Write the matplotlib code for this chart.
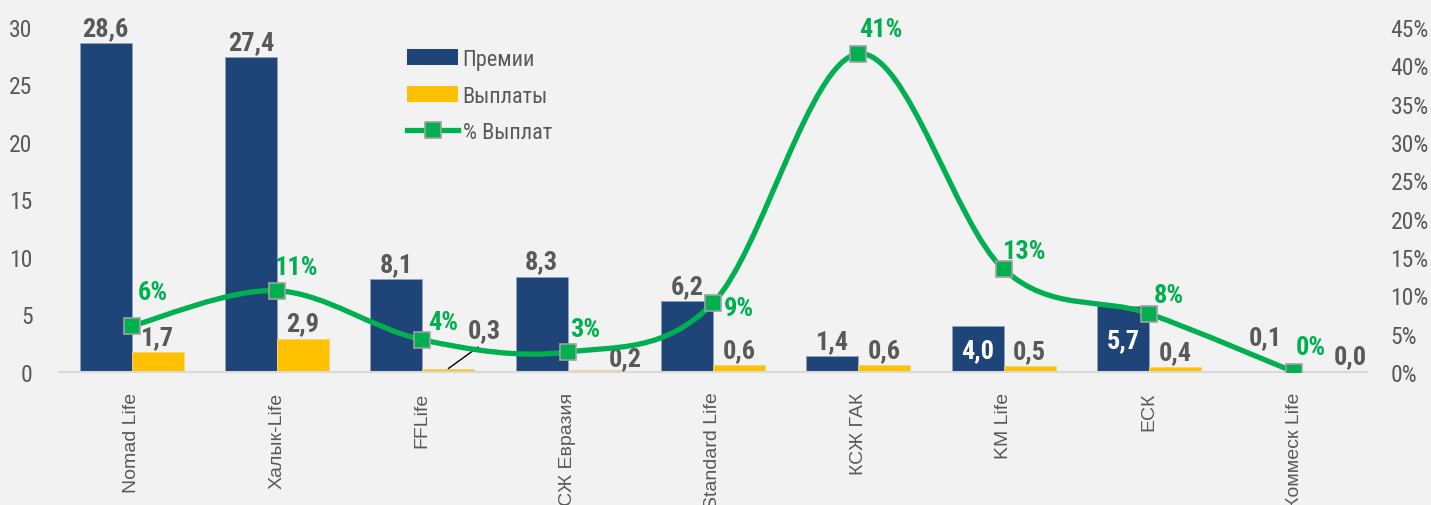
import matplotlib
matplotlib.use("Agg")
import matplotlib.pyplot as plt
from matplotlib import font_manager
from matplotlib.patches import Patch, PathPatch
from matplotlib.lines import Line2D
from matplotlib.path import Path
from matplotlib.ticker import FuncFormatter

# --- данные ---
companies = ["Nomad Life", "Халык-Life", "FFLife", "КСЖ Евразия", "Standard Life",
             "КСЖ ГАК", "KM Life", "ЕСК", "Коммеск Life"]
premii = [28.6, 27.4, 8.1, 8.3, 6.2, 1.4, 4.0, 5.7, 0.1]
vyplaty = [1.7, 2.9, 0.3, 0.2, 0.6, 0.6, 0.5, 0.4, 0.0]
pct_vyplat = [0.060, 0.106, 0.042, 0.026, 0.090, 0.415, 0.134, 0.076, 0.0]
pct_labels = ["6%", "11%", "4%", "3%", "9%", "41%", "13%", "8%", "0%"]

BLUE = "#1f4477"
YELLOW = "#ffc000"
GREEN = "#00b050"
GREY_TXT = "#595959"
BG = "#f2f2f2"


def pick_font(names):
    avail = {f.name for f in font_manager.fontManager.ttflist}
    for n in names:
        if n in avail:
            return n
    return "DejaVu Sans"


NARROW = pick_font(["Liberation Sans Narrow", "Roboto Condensed", "DejaVu Sans"])
PLAIN = pick_font(["Liberation Sans", "Arial", "DejaVu Sans"])
plt.rcParams["font.family"] = [NARROW, "DejaVu Sans"]

fig = plt.figure(figsize=(14.31, 5.06), dpi=100, facecolor=BG)
ax = fig.add_axes([59 / 1431, 1 - 373 / 506, 1308 / 1431, 345 / 506])
ax.set_facecolor(BG)
ax2 = ax.twinx()

x = list(range(len(companies)))
w = 0.358
bars_p = ax.bar([i - w / 2 for i in x], premii, w, color=BLUE, edgecolor="#8ea2bf", linewidth=0.6, zorder=2)
bars_v = ax.bar([i + w / 2 for i in x], vyplaty, w, color=YELLOW, edgecolor="#f5d37a", linewidth=0.6, zorder=2)

ax.set_xlim(-0.5, len(companies) - 0.5)
ax.set_ylim(0, 30)
ax.set_yticks(range(0, 31, 5))
ax2.set_ylim(0, 0.45)
ax2.set_yticks([i / 100 for i in range(0, 46, 5)])
ax2.yaxis.set_major_formatter(FuncFormatter(lambda v, _: f"{round(v * 100)}%"))

for a in (ax, ax2):
    for s in a.spines.values():
        s.set_visible(False)
ax.spines["bottom"].set_visible(True)
ax.spines["bottom"].set_color("#d9d9d9")
ax.spines["bottom"].set_linewidth(1.5)

ax.tick_params(axis="y", length=0, pad=19, labelsize=17, labelcolor=GREY_TXT)
ax2.tick_params(axis="y", length=0, pad=17, labelsize=17, labelcolor=GREY_TXT)
ax.set_xticks(x)
ax.set_xticklabels(companies, rotation=90, fontsize=14, color=GREY_TXT, family=PLAIN)
ax.tick_params(axis="x", length=0, pad=14)

# сглаженная линия (кривые Безье как в Excel)
pts = list(zip(x, pct_vyplat))
verts = [pts[0]]
codes = [Path.MOVETO]
n = len(pts)
for i in range(n - 1):
    p0 = pts[max(i - 1, 0)]
    p1 = pts[i]
    p2 = pts[i + 1]
    p3 = pts[min(i + 2, n - 1)]
    c1 = (p1[0] + (p2[0] - p0[0]) / 6, p1[1] + (p2[1] - p0[1]) / 6)
    c2 = (p2[0] - (p3[0] - p1[0]) / 6, p2[1] - (p3[1] - p1[1]) / 6)
    verts += [c1, c2, p2]
    codes += [Path.CURVE4] * 3
ax2.add_patch(PathPatch(Path(verts, codes), facecolor="none", edgecolor=GREEN,
                        linewidth=3.8, capstyle="round", zorder=3))
ax2.plot(x, pct_vyplat, linestyle="none", marker="s", markersize=11,
         markerfacecolor=GREEN, markeredgecolor="#a0a0a0", markeredgewidth=1.2, zorder=4)

PX = 0.72  # пиксели -> пункты

# подписи премий
prem_off = [(0, 3), (0, 3), (0, 3), (0, 3), (0, 3), (0, 3), (0, -36), (0, -46), (-3, 22)]
for i, (v, off) in enumerate(zip(premii, prem_off)):
    inside = off[1] < 0
    ax.annotate(f"{v:.1f}".replace(".", ","), (i - w / 2, v),
                xytext=(off[0] * PX, off[1] * PX), textcoords="offset points",
                ha="center", va="bottom", fontsize=19, fontweight="bold",
                color="white" if inside else GREY_TXT, zorder=5)

# подписи выплат
vyp_off = [(0, 3), (0, 3), (36, 26), (32, 0), (0, 3), (0, 3), (0, 3), (0, 3), (30, 4)]
for i, (v, off) in enumerate(zip(vyplaty, vyp_off)):
    kw = {}
    if i == 2:
        kw["arrowprops"] = dict(arrowstyle="-", color="black", lw=1, shrinkA=2, shrinkB=0,
                                relpos=(0.5, 0.0))
    ax.annotate(f"{v:.1f}".replace(".", ","), (i + w / 2, v),
                xytext=(off[0] * PX, off[1] * PX), textcoords="offset points",
                ha="center", va="bottom", fontsize=19, fontweight="bold",
                color=GREY_TXT, zorder=5, **kw)

# подписи процента
pct_off = [(21, 34), (20, 24), (21, 18), (18, 23), (26, -5), (22, 25), (21, 18), (20, 19), (16, 25)]
for i, (v, lab, off) in enumerate(zip(pct_vyplat, pct_labels, pct_off)):
    ax2.annotate(lab, (i, v), xytext=(off[0] * PX, off[1] * PX), textcoords="offset points",
                 ha="center", va="center", fontsize=19, fontweight="bold", color=GREEN, zorder=6)

handles = [
    Patch(facecolor=BLUE, edgecolor="none"),
    Patch(facecolor=YELLOW, edgecolor="none"),
    Line2D([], [], color=GREEN, lw=3.8, marker="s", markersize=11,
           markerfacecolor=GREEN, markeredgecolor="#a0a0a0", markeredgewidth=1.2),
]
leg = ax.legend(handles, ["Премии", "Выплаты", "% Выплат"], loc="upper left",
                bbox_to_anchor=(407 / 1431, 1 - 50 / 506), bbox_transform=fig.transFigure,
                frameon=False, fontsize=16, handlelength=2.3, handleheight=0.7,
                handletextpad=0.2, labelspacing=0.7, borderpad=0, borderaxespad=0)
for t in leg.get_texts():
    t.set_color(GREY_TXT)
leg.set_zorder(10)

fig.savefig("out.png", dpi=100, facecolor=BG)
